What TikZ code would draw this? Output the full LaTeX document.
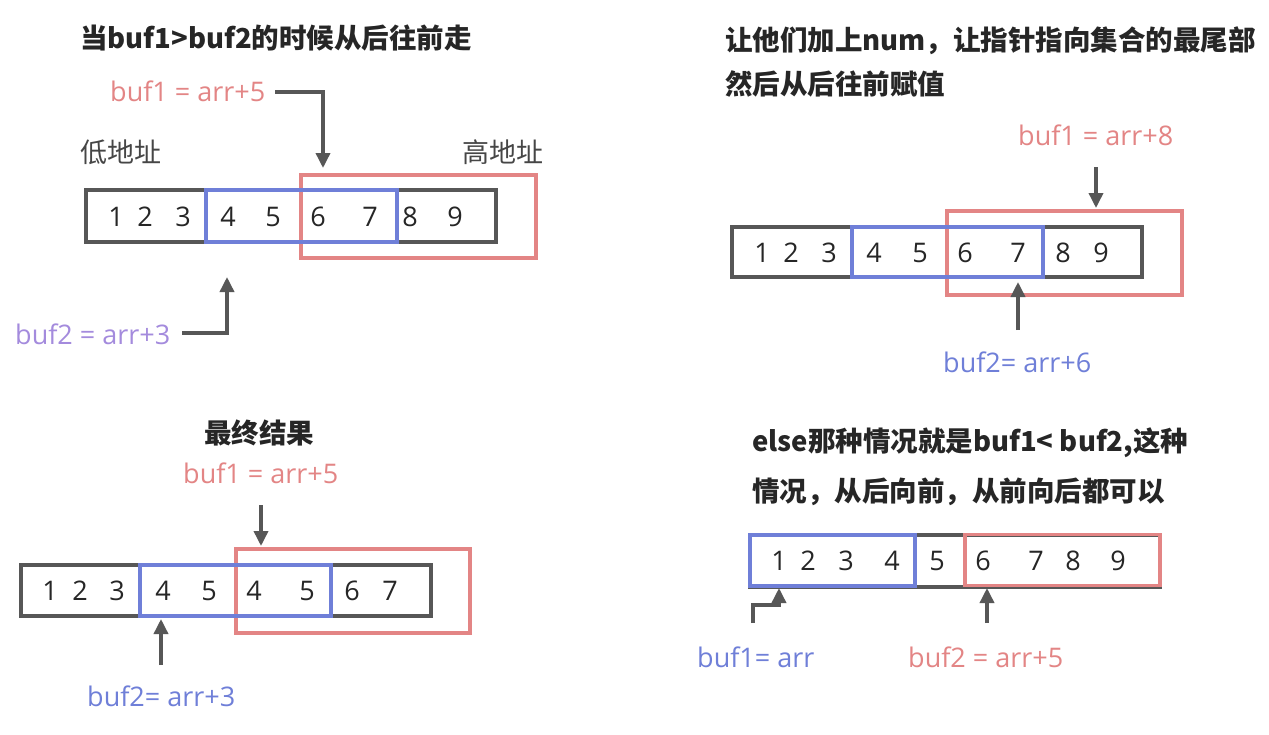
\documentclass[tikz,border=0pt]{standalone}
\usepackage{fontspec}
\setmainfont{Noto Sans CJK SC}
\newfontfamily\latinf{Open Sans}
\usetikzlibrary{arrows.meta}
\definecolor{gr}{HTML}{575757}
\definecolor{redc}{HTML}{E38585}
\definecolor{bluec}{HTML}{6F7FD8}
\definecolor{purc}{HTML}{A48BDD}
\definecolor{titc}{HTML}{262626}
\tikzset{
  title/.style={font=\fontsize{27.5}{33}\selectfont\bfseries, text=titc, anchor=west, inner sep=0pt},
  lab/.style={font=\latinf\fontsize{27}{32}\selectfont, anchor=west, inner sep=0pt},
  cjklab/.style={font=\fontsize{27}{32}\selectfont, text=gr!80!black, anchor=west, inner sep=0pt},
  num/.style={font=\latinf\fontsize{27}{32}\selectfont, text=black!85, inner sep=0pt},
  graybox/.style={draw=gr, line width=4pt, inner sep=0pt},
  redbox/.style={draw=redc, line width=3.5pt, inner sep=0pt},
  bluebox/.style={draw=bluec, line width=3.5pt, inner sep=0pt},
  ptr/.style={draw=gr, line width=3.5pt, -{Triangle[length=15pt,width=14pt]}},
}
\begin{document}
\begin{tikzpicture}[x=1pt,y=-1pt]
\useasboundingbox[fill=white] (0,0) rectangle (1269,734);

% ---------------- top-left ----------------
\node[title] (t1) at (80,38) {当buf1>buf2的时候从后往前走};
\node[lab, text=redc] (l1a) at (110,91) {buf1 = arr+5};
\node[cjklab] (low) at (80,152) {低地址};
\node[cjklab] (high) at (462,152) {高地址};
\node[graybox, minimum width=410pt, minimum height=52pt] (ga) at (291,216) {};
\node[redbox, minimum width=235pt, minimum height=83pt] (ra) at (418.5,216.5) {};
\node[bluebox, minimum width=191pt, minimum height=52pt] (ba) at (301.5,216) {};
\foreach \n/\x/\v in {1/116/1,2/145/2,3/183/3,4/228/4,5/273/5,6/318/6,7/370/7,8/410/8,9/455/9}
  \node[num] (na\n) at (\x,217) {\v};
\node[lab, text=purc] (l2a) at (15,334) {buf2 = arr+3};
\coordinate (a1s) at (275,92);
\coordinate (a1e) at (323,168);
\draw[ptr] (a1s) -| (a1e);
\coordinate (a2s) at (182,333);
\coordinate (a2e) at (227,277);
\draw[ptr] (a2s) -| (a2e);

% ---------------- top-right ----------------
\node[title] (t2) at (725,41) {让他们加上num，让指针指向集合的最尾部};
\node[title] (t3) at (725,84) {然后从后往前赋值};
\node[lab, text=redc] (l1b) at (1018,135) {buf1 = arr+8};
\node[graybox, minimum width=410pt, minimum height=50pt] (gb) at (937,252) {};
\node[redbox, minimum width=235pt, minimum height=84pt] (rb) at (1064.5,253) {};
\node[bluebox, minimum width=191pt, minimum height=50pt] (bb) at (947.5,252) {};
\foreach \n/\x/\v in {1/762/1,2/791/2,3/829/3,4/874/4,5/920/5,6/965/6,7/1018/7,8/1063/8,9/1101/9}
  \node[num] (nb\n) at (\x,253) {\v};
\node[lab, text=bluec] (l2b) at (943,362) {buf2= arr+6};
\coordinate (b1s) at (1096,167);
\coordinate (b1e) at (1096,208);
\draw[ptr] (b1s) -- (b1e);
\coordinate (b2s) at (1018,330);
\coordinate (b2e) at (1018,282);
\draw[ptr] (b2s) -- (b2e);

% ---------------- bottom-left ----------------
\node[title] (t4) at (204,433) {最终结果};
\node[lab, text=redc] (l1c) at (183,473) {buf1 = arr+5};
\node[graybox, minimum width=410pt, minimum height=51pt] (gc) at (226,590.5) {};
\node[redbox, minimum width=234pt, minimum height=84pt] (rc) at (353,591) {};
\node[bluebox, minimum width=191pt, minimum height=51pt] (bc) at (235.5,590.5) {};
\foreach \n/\x/\v in {1/50/1,2/80/2,3/117/3,4/163/4,5/209/5,6/254/4,7/307/5,8/352/6,9/390/7}
  \node[num] (nc\n) at (\x,591) {\v};
\node[lab, text=bluec] (l2c) at (87,696) {buf2= arr+3};
\coordinate (c1s) at (261,505);
\coordinate (c1e) at (261,546);
\draw[ptr] (c1s) -- (c1e);
\coordinate (c2s) at (161,665);
\coordinate (c2e) at (161,619);
\draw[ptr] (c2s) -- (c2e);

% ---------------- bottom-right ----------------
\node[title] (t5) at (752,443) {else那种情况就是buf1< buf2,这种};
\node[title] (t6) at (752,492) {情况，从后向前，从前向后都可以};
\node[graybox, minimum width=410pt, minimum height=52pt] (gd) at (955,561) {};
\node[redbox, minimum width=195pt, minimum height=51pt] (rd) at (1062.5,560) {};
\node[bluebox, minimum width=165pt, minimum height=51pt] (bd) at (832.5,560.5) {};
\foreach \n/\x/\v in {1/779/1,2/808/2,3/846/3,4/892/4,5/937/5,6/983/6,7/1036/7,8/1073/8,9/1118/9}
  \node[num] (nd\n) at (\x,561) {\v};
\node[lab, text=bluec] (l1d) at (697,657) {buf1= arr};
\node[lab, text=redc] (l2d) at (908,657) {buf2 = arr+5};
\coordinate (d1s) at (753,623);
\coordinate (d1m) at (779,605);
\coordinate (d1e) at (779,588);
\draw[ptr] (d1s) |- (d1m) -- (d1e);
\coordinate (d2s) at (987,623);
\coordinate (d2e) at (987,588);
\draw[ptr] (d2s) -- (d2e);
\end{tikzpicture}
\end{document}
